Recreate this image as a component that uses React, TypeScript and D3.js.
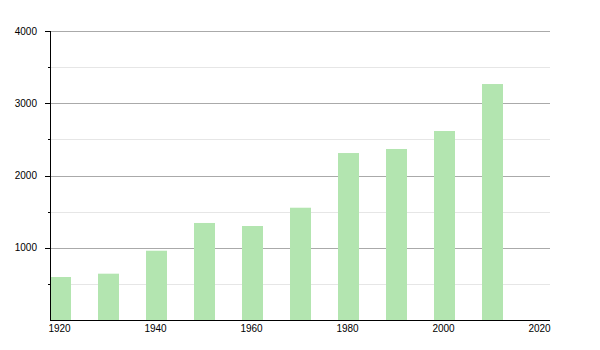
import React from "react";
import * as d3 from "d3";

const years = [1920, 1930, 1940, 1950, 1960, 1970, 1980, 1990, 2000, 2010];
const population = [595, 641, 959, 1343, 1301, 1554, 2311, 2367, 2616, 3266];
const xTicks = [1920, 1940, 1960, 1980, 2000, 2020];
const yMajorTicks = [1000, 2000, 3000, 4000];
const yMinorTicks = [500, 1500, 2500, 3500];

export default function App() {
  const W = 600, H = 350;
  const left = 50, right = 550, top = 31, bottom = 320;
  const x = d3.scaleLinear().domain([1920, 2020]).range([60.5, 540.5]);
  const y = d3.scaleLinear().domain([0, 4000]).range([bottom, top]);
  const barW = 21;
  const font = "'Liberation Sans', Arial, sans-serif";
  return (
    <svg width={W} height={H} style={{ position: "absolute", left: 0, top: 0, background: "#fff" }}>
      {yMinorTicks.map((t) => (
        <g key={"mi" + t}>
          <line x1={left} x2={right} y1={Math.round(y(t)) + 0.5} y2={Math.round(y(t)) + 0.5} stroke="#e6e6e6" strokeWidth={1} />
          <line x1={left - 2} x2={left} y1={Math.round(y(t)) + 0.5} y2={Math.round(y(t)) + 0.5} stroke="#000" strokeWidth={1} />
        </g>
      ))}
      {yMajorTicks.map((t) => (
        <g key={"ma" + t}>
          <line x1={left} x2={right} y1={Math.round(y(t)) + 0.5} y2={Math.round(y(t)) + 0.5} stroke="#aaaaaa" strokeWidth={1} />
          <line x1={left - 5} x2={left} y1={Math.round(y(t)) + 0.5} y2={Math.round(y(t)) + 0.5} stroke="#000" strokeWidth={1} />
          <text x={37} y={y(t) + 3.5} textAnchor="end" fontFamily={font} fontSize={10} fill="#000">{t}</text>
        </g>
      ))}
      {years.map((yr, i) => (
        <rect key={yr} x={x(yr) - barW / 2} y={y(population[i])} width={barW} height={bottom - y(population[i])} fill="#b3e5b0" />
      ))}
      <line x1={left + 0.5} x2={left + 0.5} y1={top} y2={bottom} stroke="#000" strokeWidth={1} />
      <line x1={left} x2={right} y1={bottom + 0.5} y2={bottom + 0.5} stroke="#000" strokeWidth={1} />
      {xTicks.map((t) => (
        <text key={"x" + t} x={x(t) - 1} y={332} textAnchor="middle" fontFamily={font} fontSize={10} fill="#000">{t}</text>
      ))}
    </svg>
  );
}
